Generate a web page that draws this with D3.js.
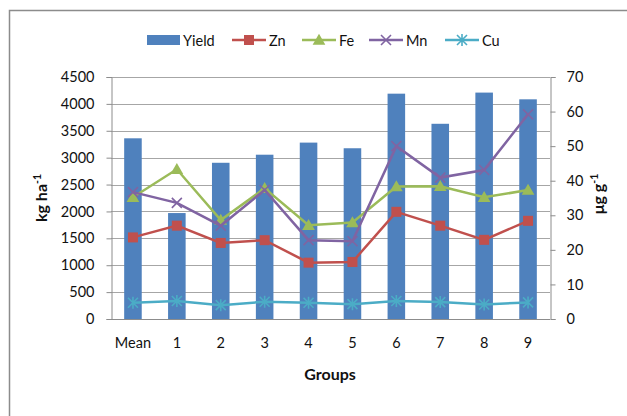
<!DOCTYPE html>
<html><head><meta charset="utf-8">
<script src="https://cdn.jsdelivr.net/npm/d3@7"></script>
<style>
body{margin:0;background:#fff;}
text{font-family:Lato,"Open Sans",sans-serif;fill:#111;}
</style></head>
<body><svg id="c" width="627" height="416"></svg>
<script>
const categories = ["Mean","1","2","3","4","5","6","7","8","9"];
const yieldVals = [3360,1970,2905,3055,3280,3175,4190,3630,4210,4085];
const zn = [23.6,27.0,22.0,22.8,16.3,16.5,31.0,27.0,22.9,28.4];
const fe = [35.2,43.3,28.6,37.8,27.1,27.9,38.3,38.4,35.2,37.3];
const mn = [36.7,33.6,27.0,37.3,22.8,22.5,50.0,40.9,43.1,59.2];
const cu = [4.7,5.2,4.0,5.0,4.7,4.3,5.2,4.9,4.2,4.8];
const leftTicks = [0,500,1000,1500,2000,2500,3000,3500,4000,4500];
const rightTicks = [0,10,20,30,40,50,60,70];

const svg = d3.select("#c");
const L=111,R=550,T=77,B=319;
svg.append("rect").attr("x",9.5).attr("y",10.5).attr("width",640).attr("height",420)
  .attr("fill","none").attr("stroke","#8c8c8c").attr("stroke-width",1.5);

const x = d3.scaleBand().domain(categories).range([L,R]).paddingInner(0.6).paddingOuter(0.3);
const yL = d3.scaleLinear().domain([0,4500]).range([B,T]);
const yR = d3.scaleLinear().domain([0,70]).range([B,T]);
const cx = c => x(c)+x.bandwidth()/2;

// gridlines
svg.append("g").selectAll("line").data(leftTicks.slice(1)).join("line")
  .attr("x1",L).attr("x2",R).attr("y1",d=>Math.round(yL(d))+0.5).attr("y2",d=>Math.round(yL(d))+0.5)
  .attr("stroke","#a6a6a6").attr("stroke-width",1);

// bars
svg.append("g").selectAll("rect").data(yieldVals).join("rect")
  .attr("x",(d,i)=>x(categories[i])).attr("width",x.bandwidth())
  .attr("y",d=>yL(d)).attr("height",d=>B-yL(d))
  .attr("fill","#4f81bd");

// axes
const axL = svg.append("g").attr("transform",`translate(${L+0.5},0)`)
  .call(d3.axisLeft(yL).tickValues(leftTicks).tickFormat(d3.format("d")).tickSize(5).tickPadding(12));
const axR = svg.append("g").attr("transform",`translate(${R+0.5},0)`)
  .call(d3.axisRight(yR).tickValues(rightTicks).tickFormat(d3.format("d")).tickSize(5).tickPadding(11));
const axB = svg.append("g").attr("transform",`translate(0,${B+0.5})`)
  .call(d3.axisBottom(x).tickSize(0).tickPadding(18));
[axL,axR,axB].forEach(a=>{
  a.selectAll("path.domain").attr("stroke","#8c8c8c");
  a.selectAll(".tick line").attr("stroke","#8c8c8c");
  a.selectAll("text").attr("font-size",14.5).attr("font-family","Lato,sans-serif").attr("fill","#111");
});
axB.select("path.domain").attr("d",`M${L},0H${R}`);

// lines
const series = [
  {name:"Zn",vals:zn,color:"#c0504d",marker:"square"},
  {name:"Fe",vals:fe,color:"#9bbb59",marker:"triangle"},
  {name:"Mn",vals:mn,color:"#8064a2",marker:"x"},
  {name:"Cu",vals:cu,color:"#4bacc6",marker:"star"}
];
function drawMarker(g,type,color,px,py){
  if(type==="square") g.append("rect").attr("x",px-5).attr("y",py-5).attr("width",10).attr("height",10).attr("fill",color);
  else if(type==="triangle") g.append("path").attr("d",d3.symbol(d3.symbolTriangle,70)()).attr("transform",`translate(${px},${py+1})`).attr("fill",color);
  else if(type==="x") g.append("path").attr("d",`M${px-5},${py-5}L${px+5},${py+5}M${px-5},${py+5}L${px+5},${py-5}`).attr("stroke",color).attr("stroke-width",1.6);
  else g.append("path").attr("d",`M${px-5},${py-5}L${px+5},${py+5}M${px-5},${py+5}L${px+5},${py-5}M${px},${py-6}L${px},${py+6}`).attr("stroke",color).attr("stroke-width",1.6);
}
const line = d3.line().x((d,i)=>cx(categories[i])).y(d=>yR(d));
series.forEach(s=>{
  const g = svg.append("g");
  g.append("path").datum(s.vals).attr("d",line).attr("fill","none").attr("stroke",s.color).attr("stroke-width",2.5);
  s.vals.forEach((v,i)=>drawMarker(g,s.marker,s.color,cx(categories[i]),yR(v)));
});

// axis titles
svg.append("text").attr("transform","translate(47,198) rotate(-90)").attr("text-anchor","middle")
  .attr("font-size",16).attr("font-weight","bold")
  .html('kg ha<tspan dy="-6" font-size="10.5">-1</tspan>');
svg.append("text").attr("transform","translate(604,194) rotate(-90)").attr("text-anchor","middle")
  .attr("font-size",16).attr("font-weight","bold")
  .html('μg g<tspan dy="-6" font-size="10.5">-1</tspan>');
svg.append("text").attr("x",330).attr("y",380).attr("text-anchor","middle")
  .attr("font-size",16).attr("font-weight","bold").text("Groups");

// legend
const lg = svg.append("g");
lg.append("rect").attr("x",147).attr("y",35).attr("width",33).attr("height",10).attr("fill","#4f81bd");
lg.append("text").attr("x",183).attr("y",45.5).attr("font-size",14.5).text("Yield");
const legPos = [232,302,369,445];
series.forEach((s,i)=>{
  const x0=legPos[i];
  lg.append("line").attr("x1",x0).attr("x2",x0+34).attr("y1",40).attr("y2",40).attr("stroke",s.color).attr("stroke-width",2.5);
  drawMarker(lg,s.marker,s.color,x0+17,40);
  lg.append("text").attr("x",x0+37).attr("y",45.5).attr("font-size",14.5).text(s.name);
});
</script></body></html>
